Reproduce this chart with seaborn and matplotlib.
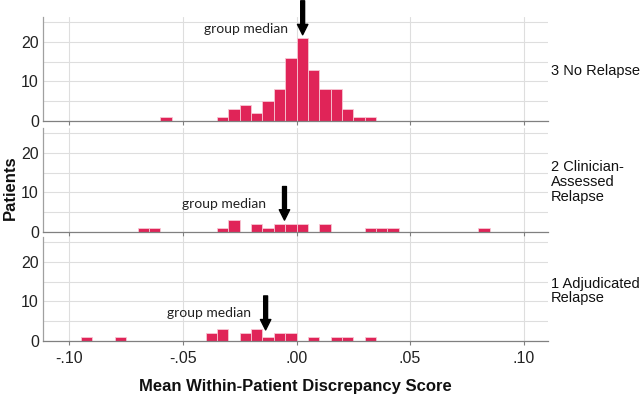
import numpy as np
import pandas as pd
import seaborn as sns
import matplotlib
matplotlib.use("Agg")
import matplotlib.pyplot as plt

# ---- data (bin left edges, counts) ----
groups = ["3 No Relapse", "2 Clinician-\nAssessed\nRelapse", "1 Adjudicated\nRelapse"]

no_relapse_bins = [-0.060, -0.035, -0.030, -0.025, -0.020, -0.015, -0.010, -0.005,
                   0.000, 0.005, 0.010, 0.015, 0.020, 0.025, 0.030]
no_relapse_counts = [1, 1, 3, 4, 2, 5, 8, 16, 21, 13, 8, 8, 3, 1, 1]

clinician_bins = [-0.070, -0.065, -0.035, -0.030, -0.020, -0.015, -0.010, -0.005,
                  0.000, 0.010, 0.030, 0.035, 0.040, 0.080]
clinician_counts = [1, 1, 1, 3, 2, 1, 2, 2, 2, 2, 1, 1, 1, 1]

adjudicated_bins = [-0.095, -0.080, -0.040, -0.035, -0.025, -0.020, -0.015, -0.010,
                    -0.005, 0.005, 0.015, 0.020, 0.030]
adjudicated_counts = [1, 1, 2, 3, 2, 3, 1, 2, 2, 1, 1, 1, 1]

medians = [0.0027, -0.0053, -0.0136]

x_ticks = [-0.10, -0.05, 0.00, 0.05, 0.10]
x_tick_labels = ["-.10", "-.05", ".00", ".05", ".10"]
y_ticks = [0, 10, 20]

BIN_W = 0.005
# ---- style ----
sns.set_theme(style="white")
plt.rcParams["font.family"] = ["Liberation Sans", "DejaVu Sans"]

fig = plt.figure(figsize=(6.44, 3.98), dpi=100)
W, H = 644, 398
left_px, right_px = 43, 548
panels_px = [(17, 121), (128, 232), (237, 341)]
bar_color = "#E02458"

series = [(no_relapse_bins, no_relapse_counts),
          (clinician_bins, clinician_counts),
          (adjudicated_bins, adjudicated_counts)]

text_pos = [(-0.0038, 23.2), (-0.0133, 7.1), (-0.0201, 7.2)]
arrow_y = [(30.4, 21.8), (11.5, 3.0), (11.4, 2.8)]

axes = []
for i, ((top, bot), (bins, counts)) in enumerate(zip(panels_px, series)):
    ax = fig.add_axes([left_px / W, 1 - bot / H, (right_px - left_px) / W, (bot - top) / H])
    axes.append(ax)
    centers = np.array(bins) + BIN_W / 2
    df = pd.DataFrame({"x": centers, "w": counts})
    sns.histplot(data=df, x="x", weights="w", binwidth=BIN_W, binrange=(-0.115, 0.115),
                 ax=ax, color=bar_color, alpha=1, edgecolor="#f7c6d3", linewidth=0.6)
    ax.set_xlim(-0.1116, 0.1107)
    ax.set_ylim(0, 26.3)
    ax.set_xticks(x_ticks)
    ax.set_yticks(y_ticks)
    ax.set_yticks([5, 15, 25], minor=True)
    ax.grid(True, which="both", axis="y", color="#dedede", lw=0.8)
    ax.grid(True, which="major", axis="x", color="#dedede", lw=0.8)
    ax.set_axisbelow(True)
    for s in ["top", "right"]:
        ax.spines[s].set_visible(False)
    ax.spines["left"].set_color("#a0a0a0")
    ax.spines["bottom"].set_color("#808080")
    ax.spines["left"].set_linewidth(0.9)
    ax.spines["bottom"].set_linewidth(0.9)
    ax.tick_params(axis="y", which="both", length=0, labelsize=11.5, colors="#222222", pad=3)
    ax.tick_params(axis="x", length=3, color="#808080", width=0.8, labelsize=11.5,
                   labelcolor="#222222", pad=4, bottom=True)
    ax.set_xlabel("")
    ax.set_ylabel("")
    if i < 2:
        ax.set_xticklabels([])
    else:
        ax.set_xticklabels(x_tick_labels)

    # group median annotation
    tx, ty = text_pos[i]
    ax.text(tx, ty, "group median", ha="right", va="center", fontsize=10,
            family=["Lato", "DejaVu Sans"], color="#222222", clip_on=False)
    y0, y1 = arrow_y[i]
    ax.annotate("", xy=(medians[i], y1), xytext=(medians[i], y0),
                arrowprops=dict(arrowstyle="simple,head_length=0.75,head_width=0.75,tail_width=0.28",
                                mutation_scale=10, fc="black", ec="black",
                                shrinkA=0, shrinkB=0),
                annotation_clip=False)

    # row label on right
    cy = 1 - ((top + bot) / 2 + 2) / H
    fig.text(551 / W, cy, groups[i], ha="left", va="center", fontsize=10.5,
             color="#111111", linespacing=1.05)

fig.text(10 / W, 1 - 188 / H, "Patients", rotation=90, ha="center", va="center",
         fontsize=12, fontweight="bold", color="#111111")
fig.text(((left_px + right_px) / 2) / W, 1 - 387 / H, "Mean Within-Patient Discrepancy Score",
         ha="center", va="center", fontsize=12, fontweight="bold", color="#111111")

fig.savefig("out.png", dpi=100)
